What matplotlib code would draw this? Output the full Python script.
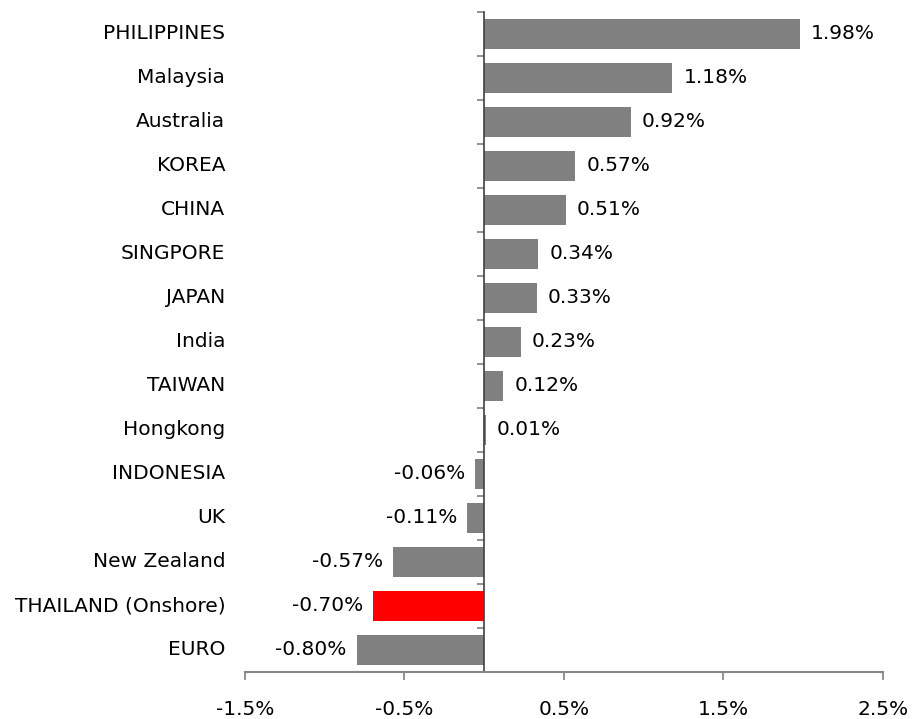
import matplotlib as mpl
mpl.use('Agg')
import matplotlib.pyplot as plt
import numpy as np

countries = ['PHILIPPINES', 'Malaysia', 'Australia', 'KOREA', 'CHINA', 'SINGPORE',
             'JAPAN', 'India', 'TAIWAN', 'Hongkong', 'INDONESIA', 'UK',
             'New Zealand', 'THAILAND (Onshore)', 'EURO']
changes = [1.98, 1.18, 0.92, 0.57, 0.51, 0.34, 0.33, 0.23, 0.12, 0.01,
           -0.06, -0.11, -0.57, -0.70, -0.80]
xticks = [-1.5, -0.5, 0.5, 1.5, 2.5]

plt.rcParams['font.family'] = 'DejaVu Sans'
fs = 14.5

fig = plt.figure(figsize=(9.14, 7.19), dpi=100)
ax = fig.add_axes([0.268, 0.0654, 0.698, 0.918])

n = len(countries)
ypos = np.arange(n)[::-1]
colors = ['#ff0000' if c.startswith('THAILAND') else '#808080' for c in countries]
ax.barh(ypos, changes, height=0.70, color=colors)

ax.set_xlim(-1.5, 2.5)
ax.set_ylim(-0.5, n - 0.5)

# value labels
for y, v in zip(ypos, changes):
    if v >= 0:
        ax.annotate(f'{v:.2f}%', (v, y), xytext=(8, 0), textcoords='offset points',
                    ha='left', va='center', fontsize=fs, color='black')
    else:
        ax.annotate(f'{v:.2f}%', (v, y), xytext=(-7, 0), textcoords='offset points',
                    ha='right', va='center', fontsize=fs, color='black')

# category labels at the low side
trans = mpl.transforms.blended_transform_factory(ax.transAxes, ax.transData)
for y, c in zip(ypos, countries):
    ax.text(-0.031, y, c, transform=trans, ha='right', va='center', fontsize=fs)

# axes look
for s in ['top', 'right']:
    ax.spines[s].set_visible(False)
ax.spines['left'].set_position(('data', 0))
ax.spines['left'].set_color('#404040')
ax.spines['left'].set_linewidth(1.2)
ax.spines['bottom'].set_color('#868686')
ax.spines['bottom'].set_linewidth(1.5)
ax.set_yticks(np.arange(-0.5, n, 1.0))
ax.set_yticklabels([])
ax.tick_params(axis='y', length=5, width=1.2, color='#808080', direction='out')
ax.set_xticks(xticks)
ax.set_xticklabels([f'{t:.1f}%' for t in xticks], fontsize=fs)
ax.tick_params(axis='x', length=6, width=1.2, color='#808080', pad=14)

plt.savefig('out.png', dpi=100)
